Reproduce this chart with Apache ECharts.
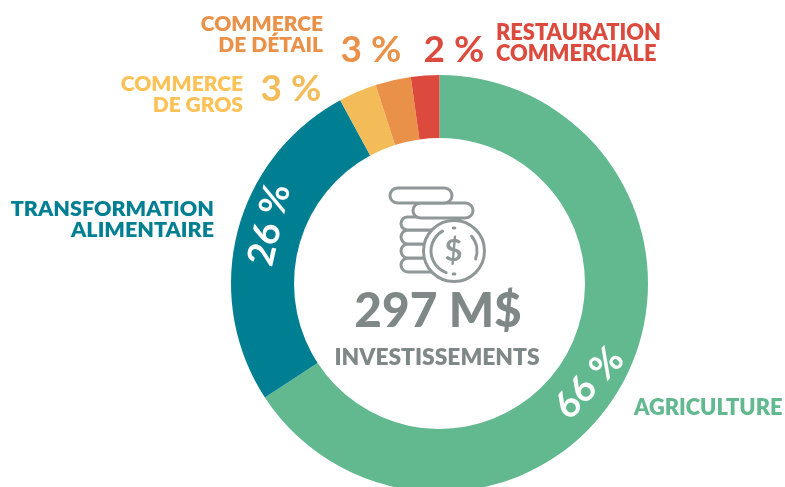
<!DOCTYPE html>
<html>
<head>
<meta charset="utf-8">
<style>
  html, body { margin: 0; padding: 0; background: #fff; }
  #chart { width: 785px; height: 487px; }
</style>
<script src="https://cdn.jsdelivr.net/npm/echarts@6/dist/echarts.min.js"></script>
</head>
<body>
<div id="chart"></div>
<script>
const categories = ['Agriculture', 'Transformation alimentaire', 'Commerce de gros', 'Commerce de détail', 'Restauration commerciale'];
const shares = [65.8, 26.3, 2.95, 2.75, 2.2];
const shareLabels = ['66 %', '26 %', '3 %', '3 %', '2 %'];
const colors = ['#62b88f', '#007f92', '#f4bc58', '#ea9149', '#dc4a3e'];
const totalLabel = '297 M$';
const totalCaption = 'INVESTISSEMENTS';

const FONT = 'Lato, sans-serif';
const GREY = '#7f8887';
const ICON = '#8f9797';

const cx = 439.5;
const cy = 283.5;

// where the percent labels sit, by slice
const labelSpots = [
  { rotate: 47, dx: -16, dy: 3 },
  { rotate: 77, dx: 15, dy: 1 },
  { x: 291, y: 89, color: '#f4bc58' },
  { x: 371, y: 50, color: '#ea9149' },
  { x: 454, y: 50, color: '#dc4a3e' },
];

const names = [
  { text: 'AGRICULTURE', x: 634, y: 408, align: 'left', color: '#62b88f', size: 21.8 },
  { text: 'TRANSFORMATION\nALIMENTAIRE', x: 214, y: 220, align: 'right', color: '#007f92', size: 21.5 },
  { text: 'COMMERCE\nDE GROS', x: 243, y: 95, align: 'right', color: '#fdc257', size: 21 },
  { text: 'COMMERCE\nDE DÉTAIL', x: 323, y: 35, align: 'right', color: '#ea9149', size: 21 },
  { text: 'RESTAURATION\nCOMMERCIALE', x: 496, y: 43, align: 'left', color: '#dc4a3e', size: 21.8 },
];

function nameText(n) {
  return {
    type: 'text',
    z: 10,
    style: {
      text: n.text,
      x: n.x,
      y: n.y,
      align: n.align,
      verticalAlign: 'middle',
      fill: n.color,
      font: '800 ' + n.size + 'px ' + FONT,
      lineHeight: 21,
    },
  };
}

function coin(x, y, w, h) {
  return {
    type: 'rect',
    z: 5,
    shape: { x, y, width: w, height: h, r: h / 2 },
    style: { fill: '#fff', stroke: ICON, lineWidth: 3 },
  };
}

function iconArc(r, startDeg, endDeg) {
  return {
    type: 'arc',
    z: 7,
    shape: {
      cx: 454, cy: 251, r,
      startAngle: (startDeg * Math.PI) / 180,
      endAngle: (endDeg * Math.PI) / 180,
    },
    style: { fill: null, stroke: ICON, lineWidth: 3, lineCap: 'round' },
  };
}

const icon = [
  coin(401, 258, 46, 14),
  coin(401, 244, 46, 14),
  coin(401, 230, 46, 14),
  coin(401, 217, 60, 13),
  coin(413, 203, 60, 15),
  coin(390, 188, 62, 15),
  {
    type: 'circle',
    z: 6,
    shape: { cx: 454, cy: 251, r: 30.5 },
    style: { fill: '#fff', stroke: ICON, lineWidth: 3 },
  },
  iconArc(23, 320, 20),
  iconArc(23, 110, 240),
  iconArc(23, 268, 272),
  iconArc(23, 88, 92),
  {
    type: 'text',
    z: 7,
    style: {
      text: '$',
      x: 453.5,
      y: 251,
      align: 'center',
      verticalAlign: 'middle',
      fill: ICON,
      font: 'bold 31px ' + FONT,
    },
  },
];

const chart = echarts.init(document.getElementById('chart'));
chart.setOption({
  animation: false,
  series: [
    {
      type: 'pie',
      center: [cx, cy],
      radius: [145.5, 208.5],
      startAngle: 90,
      clockwise: true,
      silent: true,
      itemStyle: { borderColor: '#fff', borderWidth: 0 },
      labelLine: { show: false },
      data: categories.map((name, i) => ({
        name,
        value: shares[i],
        itemStyle: { color: colors[i] },
        label: {
          show: true,
          position: 'inside',
          formatter: shareLabels[i],
          rotate: labelSpots[i].rotate || 0,
          color: labelSpots[i].color || '#fff',
          fontFamily: FONT,
          fontSize: 37,
          fontWeight: 'bold',
        },
      })),
      labelLayout: (params) => {
        const s = labelSpots[params.dataIndex];
        if (s.x !== undefined) {
          return { x: s.x, y: s.y, align: 'center', verticalAlign: 'middle' };
        }
        return { dx: s.dx, dy: s.dy };
      },
    },
  ],
  graphic: {
    elements: [
      ...names.map(nameText),
      ...icon,
      {
        type: 'text',
        z: 10,
        style: {
          text: totalLabel,
          x: 438,
          y: 312,
          align: 'center',
          verticalAlign: 'middle',
          fill: GREY,
          font: '900 47.7px ' + FONT,
        },
      },
      {
        type: 'text',
        z: 10,
        style: {
          text: totalCaption,
          x: 437,
          y: 358,
          align: 'center',
          verticalAlign: 'middle',
          fill: GREY,
          font: '800 22.8px ' + FONT,
        },
      },
    ],
  },
});
</script>
</body>
</html>
